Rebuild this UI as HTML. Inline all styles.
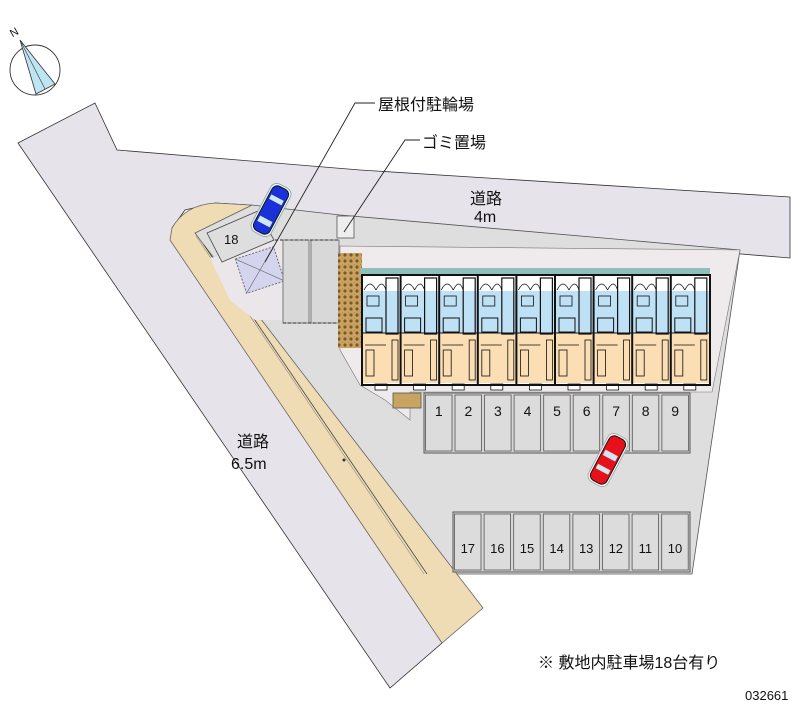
<!DOCTYPE html>
<html><head><meta charset="utf-8"><style>
html,body{margin:0;padding:0;background:#fff;}
svg{display:block;}
text{font-family:"Liberation Sans","Noto Sans CJK JP",sans-serif;fill:#111;}
</style></head><body>
<svg width="800" height="727" viewBox="0 0 800 727" xmlns="http://www.w3.org/2000/svg">
<defs>
<pattern id="brick" width="6" height="6" patternUnits="userSpaceOnUse">
<rect width="6" height="6" fill="#c9a460"/><circle cx="3" cy="3" r="1.6" fill="#7a5a2a"/><circle cx="0" cy="0" r="1" fill="#d0606a"/>
</pattern>
<g id="unit">
<rect x="0" y="276" width="38.6" height="15" fill="#fff"/>
<path d="M2,290 Q8,278 14,290 M14,290 Q20,278 24,290" fill="none" stroke="#111" stroke-width="0.8"/>
<rect x="0" y="291" width="38.6" height="42" fill="#bfe1f5"/>
<rect x="0" y="333" width="38.6" height="50" fill="#fbdeb4"/>
<rect x="24" y="278" width="12" height="56" fill="none" stroke="#111" stroke-width="1.2"/>
<rect x="5" y="296" width="12" height="10" fill="none" stroke="#111" stroke-width="0.8"/>
<rect x="4" y="318" width="16" height="14" fill="none" stroke="#111" stroke-width="1"/>
<line x1="3" y1="345" x2="24" y2="345" stroke="#111" stroke-width="0.8"/>
<rect x="4" y="350" width="8" height="26" fill="none" stroke="#111" stroke-width="0.8"/>
<rect x="30" y="340" width="6" height="40" fill="none" stroke="#111" stroke-width="0.8"/>
<rect x="13" y="384" width="12" height="6" fill="#fff" stroke="#111" stroke-width="0.8"/>
<line x1="0" y1="276" x2="0" y2="384" stroke="#111" stroke-width="2"/>
<line x1="0" y1="333" x2="38.6" y2="333" stroke="#111" stroke-width="1"/>
</g>
<rect id="p1" x="0" y="0" width="26.5" height="56" fill="#dcdcdc" stroke="#555" stroke-width="0.8"/>
<rect id="p2" x="0" y="0" width="26.5" height="56" fill="#dcdcdc" stroke="#555" stroke-width="0.8"/>
</defs>
<!-- roads -->
<polygon points="18,143 95,103 117,150 360,170 790,197 790,258 350,222 250,205 215,203 185,210 172,228 442,643 390,688" fill="#e6e4ea" stroke="#333" stroke-width="0.8"/>
<!-- site -->
<polygon points="195,233 252,205 340,215 740,250 692,574 427,574" fill="#dedede" stroke="#555" stroke-width="0.8"/>
<!-- beige sidewalk -->
<path d="M250,205 L215,203 Q185,205 172,228 L170,240 L442,643 L483,608 L204,245 L195,233 L252,205 Z" fill="#f0dcb4" stroke="#666" stroke-width="0.8"/>
<line x1="204" y1="245" x2="427" y2="574" stroke="#444" stroke-width="0.8"/>
<line x1="196" y1="236" x2="424" y2="574" stroke="#888" stroke-width="0.6"/>
<circle cx="344" cy="460" r="1.5" fill="#333"/>
<!-- pinkish area by bike -->
<polygon points="210,258 282,240 282,320 255,320 230,300" fill="#ebe6ea"/>
<!-- 18 space -->
<polygon points="207,233 258,211 274,240 222,262" fill="#dedede" stroke="#444" stroke-width="0.8"/>
<text x="224" y="244" font-size="13" fill="#333">18</text>
<!-- bike roof -->
<g transform="rotate(-18 260 270)"><rect x="240" y="252" width="40" height="36" fill="#d4d4ee" stroke="#555" stroke-dasharray="2,1.5" stroke-width="0.8"/><line x1="240" y1="252" x2="280" y2="288" stroke="#666" stroke-width="0.6"/><line x1="280" y1="252" x2="240" y2="288" stroke="#666" stroke-width="0.6"/></g>
<!-- driveway strips -->
<rect x="283" y="240" width="26" height="83" fill="#d8d8d8" stroke="#666" stroke-width="0.8"/>
<rect x="311" y="240" width="28" height="83" fill="#d8d8d8" stroke="#666" stroke-width="0.8"/>
<line x1="275" y1="240" x2="340" y2="240" stroke="#333" stroke-dasharray="3,2"/>
<line x1="283" y1="323" x2="340" y2="323" stroke="#333" stroke-dasharray="3,2"/>
<!-- gomi -->
<rect x="337" y="216" width="17" height="22" fill="#eee" stroke="#555" stroke-width="0.8"/>
<!-- building area backgrounds -->
<polygon points="340,246 740,250 712,392 410,392 410,420 385,400 360,385 340,350" fill="#efebec" stroke="#777" stroke-width="0.6"/>
<rect x="338" y="253" width="24" height="95" fill="url(#brick)"/>
<rect x="360" y="268" width="350" height="7" fill="#8fbfb6"/>
<rect x="362" y="275" width="348" height="110" fill="#fff"/>
<use href="#unit" x="362"/><use href="#unit" x="400.6"/><use href="#unit" x="439.2"/><use href="#unit" x="477.8"/><use href="#unit" x="516.4"/><use href="#unit" x="555"/><use href="#unit" x="593.6"/><use href="#unit" x="632.2"/><use href="#unit" x="670.8"/>
<rect x="362" y="275" width="348" height="110" fill="none" stroke="#111" stroke-width="2"/>
<!-- parking 1-9 -->
<rect x="424" y="393" width="266" height="60" fill="#d6d6d6" stroke="#555"/>
<use href="#p1" x="425.5" y="395"/><use href="#p1" x="455" y="395"/><use href="#p1" x="484.6" y="395"/><use href="#p1" x="514.1" y="395"/><use href="#p1" x="543.7" y="395"/><use href="#p1" x="573.2" y="395"/><use href="#p1" x="602.8" y="395"/><use href="#p1" x="632.3" y="395"/><use href="#p1" x="661.9" y="395"/>
<g font-size="14" text-anchor="middle">
<text x="438.8" y="416" fill="#333">1</text><text x="468.4" y="416" fill="#333">2</text><text x="497.9" y="416" fill="#333">3</text><text x="527.5" y="416" fill="#333">4</text><text x="557" y="416" fill="#333">5</text><text x="586.6" y="416" fill="#333">6</text><text x="616.1" y="416" fill="#333">7</text><text x="645.7" y="416" fill="#333">8</text><text x="675.2" y="416" fill="#333">9</text>
</g>
<!-- parking 10-17 -->
<rect x="453" y="512" width="237" height="60" fill="#d6d6d6" stroke="#555"/>
<use href="#p2" x="454.5" y="514"/><use href="#p2" x="484.1" y="514"/><use href="#p2" x="513.7" y="514"/><use href="#p2" x="543.3" y="514"/><use href="#p2" x="572.9" y="514"/><use href="#p2" x="602.5" y="514"/><use href="#p2" x="632.1" y="514"/><use href="#p2" x="661.7" y="514"/>
<g font-size="13" text-anchor="middle">
<text x="467.8" y="553" fill="#333">17</text><text x="497.4" y="553" fill="#333">16</text><text x="527" y="553" fill="#333">15</text><text x="556.6" y="553" fill="#333">14</text><text x="586.2" y="553" fill="#333">13</text><text x="615.8" y="553" fill="#333">12</text><text x="645.4" y="553" fill="#333">11</text><text x="675" y="553" fill="#333">10</text>
</g>
<!-- small storage -->
<rect x="393" y="393" width="28" height="15" fill="#c9a460" stroke="#555" stroke-width="0.8"/>
<!-- cars -->
<g transform="translate(608,460) rotate(28)"><rect x="-11" y="-27" width="22" height="54" rx="7" fill="#fff" stroke="#aaa"/><rect x="-9" y="-25" width="18" height="50" rx="6" fill="#e8101a" stroke="#111"/><rect x="-7" y="-8" width="14" height="6" fill="#cfe8f0"/><rect x="-7" y="8" width="14" height="5" fill="#cfe8f0"/></g>
<g transform="translate(271,210) rotate(28)"><rect x="-11" y="-27" width="22" height="54" rx="7" fill="#fff" stroke="#8aa"/><rect x="-9" y="-25" width="18" height="50" rx="6" fill="#1a30d8" stroke="#111"/><rect x="-7" y="-14" width="14" height="5" fill="#cfe8f0"/><rect x="-7" y="10" width="14" height="6" fill="#cfe8f0"/></g>
<!-- leader lines -->
<polyline points="375,103 355,103 265,262" fill="none" stroke="#222" stroke-width="0.9"/>
<polyline points="420,140 405,140 344,232" fill="none" stroke="#222" stroke-width="0.9"/>
<text x="378" y="110" font-size="16">屋根付駐輪場</text>
<text x="422" y="148" font-size="16">ゴミ置場</text>
<text x="470" y="204" font-size="16">道路</text>
<text x="474" y="222" font-size="16">4m</text>
<text x="237" y="447" font-size="16">道路</text>
<text x="231" y="469" font-size="16">6.5m</text>
<text x="538" y="668" font-size="16">※ 敷地内駐車場18台有り</text>
<text x="745" y="700" font-size="13" fill="#333">032661</text>
<!-- compass -->
<circle cx="35" cy="70" r="25" fill="none" stroke="#333" stroke-width="0.9"/>
<polygon points="20,40 55,84 36,94" fill="#bfe4f2" stroke="#333" stroke-width="0.8"/>
<line x1="20" y1="40" x2="45" y2="89" stroke="#333" stroke-width="0.6"/>
<text x="10" y="36" font-size="11" transform="rotate(-30 14 32)">N</text>
</svg>
</body></html>
